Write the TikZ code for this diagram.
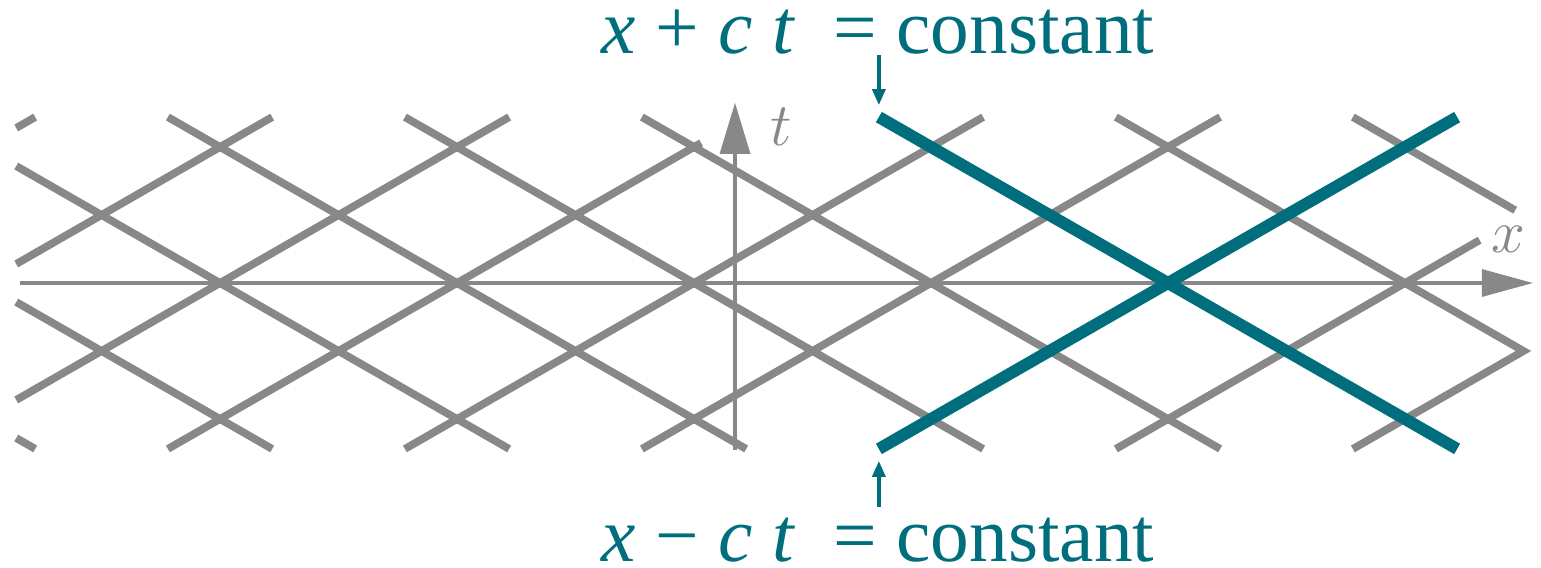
\documentclass[tikz,border=0pt]{standalone}
\usepackage{fontspec}
\setmainfont{Liberation Serif}
\usetikzlibrary{arrows.meta}
\definecolor{charteal}{HTML}{006E7C}
\definecolor{chargrey}{HTML}{888888}

\begin{document}
\begin{tikzpicture}[
  x=1.185cm,y=0.68cm,
  charline/.style={draw=chargrey,line width=2.2pt},
  tealline/.style={draw=charteal,line width=3.4pt},
  axes/.style={chargrey,line width=0.9pt},
  axlabel/.style={chargrey,inner sep=0pt,font=\fontsize{16}{18}\selectfont},
  pointer/.style={charteal,line width=1pt,-{Triangle[length=0.16cm,width=0.13cm]}},
  eqn/.style={charteal,inner sep=0pt,font=\fontsize{22}{26}\selectfont}]

  \useasboundingbox (-1.857,-4.191) rectangle (11.148,4.162);

  % rising lines, x - ct = const
  \foreach \k/\ua/\ub in {-2/-1.72/-1.56,-1/-1.72/0.44,0/-1.72/2.44,1/-0.44/4.06,
      2/1.56/6.44,3/3.56/8.44,5/7.56/10.63}
    \draw[charline] (\ua,{\ua-2*(\k)}) -- (\ub,{\ub-2*(\k)});
  % falling lines, x + ct = const
  \foreach \k/\ua/\ub in {-2/-1.72/-1.56,-1/-1.72/0.44,0/-1.72/2.44,1/-0.44/4.44,
      2/1.56/6.44,3/3.56/8.44,6/9.56/10.93}
    \draw[charline] (\ua,{2*(\k)-\ua}) -- (\ub,{2*(\k)-\ub});
  \draw[charline,line join=miter] (7.56,2.44) -- (11,-1) -- (9.56,-2.44);

  % axes
  \draw[axes,-{Triangle[length=0.51cm,width=0.27cm]}] (-1.69,0) -- (11.08,0);
  \draw[axes,-{Triangle[length=0.51cm,width=0.3cm]}] (4.346,-2.46) -- (4.346,2.65);
  \node[axlabel] (xlab) at (10.87,0.64) {$x$};
  \node[axlabel] (tlab) at (4.74,2.3) {$t$};

  % the two highlighted characteristics
  \coordinate (plusend) at (5.56,2.44);
  \coordinate (minusend) at (5.56,-2.44);
  \draw[tealline] (plusend) -- (10.44,-2.44);
  \draw[tealline] (minusend) -- (10.44,2.44);

  \node[eqn,anchor=base] (plus) at (5.553,3.368)
    {\textit{x} + \textit{c} \textit{t}\enspace = constant};
  \node[eqn,anchor=base] (minus) at (5.553,-4.09)
    {\textit{x} − \textit{c} \textit{t}\enspace = constant};
  \draw[pointer] (plus.south -| plusend) -- ([yshift=0.12cm]plusend);
  \draw[pointer] ([yshift=0.1cm]minus.north -| minusend) -- ([yshift=-0.12cm]minusend);
\end{tikzpicture}
\end{document}
